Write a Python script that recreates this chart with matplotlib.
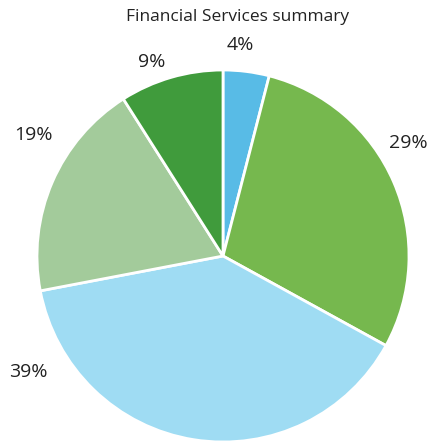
import numpy as np
import matplotlib
matplotlib.use("Agg")
import matplotlib.pyplot as plt

title = "Financial Services summary"
values = [4, 29, 39, 19, 9]
labels = ["4%", "29%", "39%", "19%", "9%"]
colors = ["#58bbe6", "#76b84e", "#9fdcf3", "#a3cb9b", "#409b3c"]
# label placement (angle in degrees, distance in radii)
label_angles = [85.4, 31.4, 210.7, 147.5, 110.1]
label_dists = [1.14, 1.17, 1.22, 1.21, 1.11]

plt.rcParams['font.family'] = ['Open Sans', 'DejaVu Sans']
W, H = 430, 442
fig = plt.figure(figsize=(W / 100, H / 100), dpi=100)
cx, cy, r = 223, 256, 186
ax = fig.add_axes([(cx - r) / W, (H - cy - r) / H, 2 * r / W, 2 * r / H])
ax.pie(values, colors=colors, startangle=90, counterclock=False, radius=1,
       wedgeprops=dict(edgecolor="white", linewidth=2))
ax.set_xlim(-1, 1)
ax.set_ylim(-1, 1)
ax.set_aspect("equal")
ax.axis("off")
for lab, a, d in zip(labels, label_angles, label_dists):
    t = np.deg2rad(a)
    ax.text(d * np.cos(t), d * np.sin(t), lab, ha="center", va="center",
            fontsize=14, color="#222222", clip_on=False)
fig.text(238 / W, 1 - 17 / H, title, ha="center", va="center",
         fontsize=12.5, color="#222222", fontweight="medium")
fig.savefig("out.png", dpi=100)
